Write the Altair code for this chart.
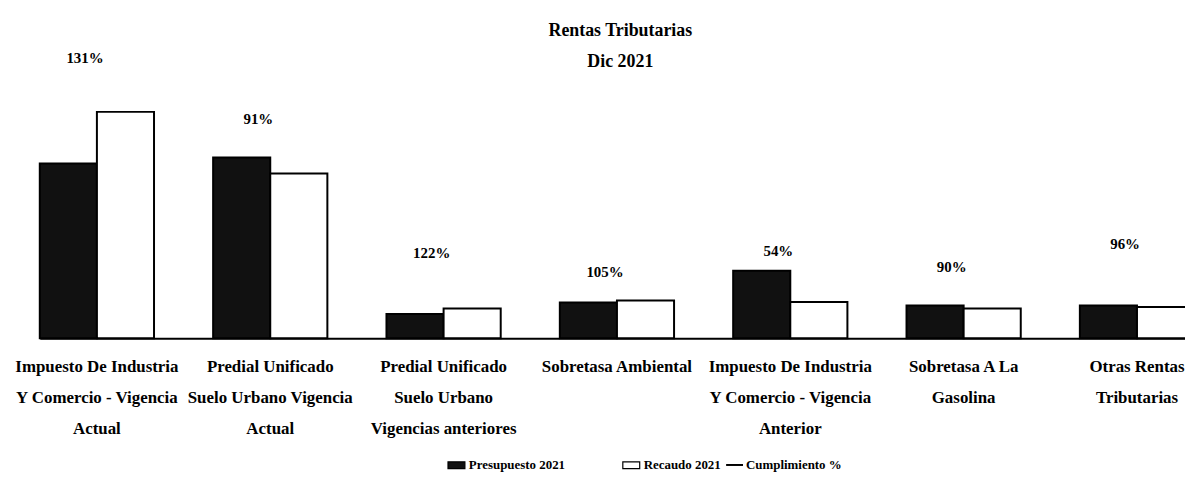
import altair as alt
import pandas as pd

categories = [
    "Impuesto De Industria\nY Comercio - Vigencia\nActual",
    "Predial Unificado\nSuelo Urbano Vigencia\nActual",
    "Predial Unificado\nSuelo Urbano\nVigencias anteriores",
    "Sobretasa Ambiental",
    "Impuesto De Industria\nY Comercio - Vigencia\nAnterior",
    "Sobretasa A La\nGasolina",
    "Otras Rentas\nTributarias",
]
presupuesto = [176, 182, 24.5, 36, 68, 33, 33]
recaudo = [228, 166, 30, 38, 36.5, 30, 31.5]
cumplimiento = [131, 91, 122, 105, 54, 90, 96]
label_level = [282.5, 221, 85.5, 66.5, 87.5, 71.5, 94.5]

series = ["Presupuesto 2021", "Recaudo 2021"]
line_series = ["Cumplimiento %"]

rows = []
for c, p, r in zip(categories, presupuesto, recaudo):
    rows.append({"cat": c, "serie": series[0], "valor": p})
    rows.append({"cat": c, "serie": series[1], "valor": r})
bars_df = pd.DataFrame(rows)

lab_df = pd.DataFrame({
    "cat": categories,
    "level": label_level,
    "pct": cumplimiento,
    "txt": [f"{v}%" for v in cumplimiento],
})

FONT = "Liberation Serif"

x_scale = alt.Scale(domain=categories, range=[32, 1253.5], paddingInner=0.341,
                    paddingOuter=0.17, align=0)
y_scale = alt.Scale(domain=[0, 265], nice=False, zero=True)

x_axis = alt.Axis(
    title=None, labelAngle=0, ticks=False, grid=False,
    domainColor="black", domainWidth=2,
    labelFont=FONT, labelFontSize=17, labelFontWeight="bold", labelColor="black",
    labelLineHeight=31.5, labelPadding=20, labelLimit=400, labelOverlap=False,
    labelBaseline="top",
    labelExpr="split(datum.label, '\\n')",
)

bar_legend = alt.Legend(
    title=None, orient="none", direction="horizontal", legendX=442, legendY=383,
    labelFont=FONT, labelFontSize=13, labelFontWeight="bold", labelColor="black",
    symbolType="M-1,-0.4H1V0.4H-1Z", symbolSize=289, columnPadding=55, labelOffset=3,
    symbolStrokeColor="black", symbolStrokeWidth=1.2,
)

line_legend = alt.Legend(
    title=None, orient="none", direction="horizontal", legendX=722, legendY=383,
    labelFont=FONT, labelFontSize=13, labelFontWeight="bold", labelColor="black",
    symbolType="stroke", symbolSize=289, labelOffset=2,
    symbolStrokeColor="black", symbolStrokeWidth=2, symbolOpacity=1,
)

bars = alt.Chart(bars_df).mark_bar(stroke="black", strokeWidth=2).encode(
    x=alt.X("cat:N", sort=categories, scale=x_scale, axis=x_axis),
    xOffset=alt.XOffset("serie:N", sort=series,
                        scale=alt.Scale(domain=series, paddingInner=0, paddingOuter=0)),
    y=alt.Y("valor:Q", scale=y_scale, axis=None),
    color=alt.Color("serie:N", scale=alt.Scale(domain=series,
                    range=["#111111", "#ffffff"]), legend=bar_legend),
)

# Cumplimiento % series: the line itself is not drawn in the reference, only its legend entry
line = alt.Chart(lab_df).transform_calculate(
    s="'Cumplimiento %'"
).transform_filter("false").mark_line(strokeWidth=2).encode(
    x=alt.X("cat:N", sort=categories),
    y=alt.Y("level:Q"),
    stroke=alt.Stroke("s:N", scale=alt.Scale(domain=line_series, range=["black"]),
                      legend=line_legend),
)

labels = alt.Chart(lab_df).mark_text(
    font=FONT, fontSize=15, fontWeight="bold", color="black", baseline="middle", dx=-12
).encode(
    x=alt.X("cat:N", sort=categories),
    y=alt.Y("level:Q"),
    text="txt:N",
)

chart = alt.layer(bars, line, labels).properties(
    width=1185, height=265,
    autosize=alt.AutoSizeParams(type="none"),
    padding={"top": 66, "bottom": 134, "left": 0, "right": 0},
    title=alt.Title(
        ["Rentas Tributarias", "Dic 2021"], font=FONT, fontSize=18, fontWeight="bold",
        color="black", lineHeight=31, anchor="middle", dx=24, offset=-20,
    ),
).configure(background="white").configure_view(strokeWidth=0, stroke=None)

chart.save("out.html", embed_options={"renderer": "svg", "actions": False})
